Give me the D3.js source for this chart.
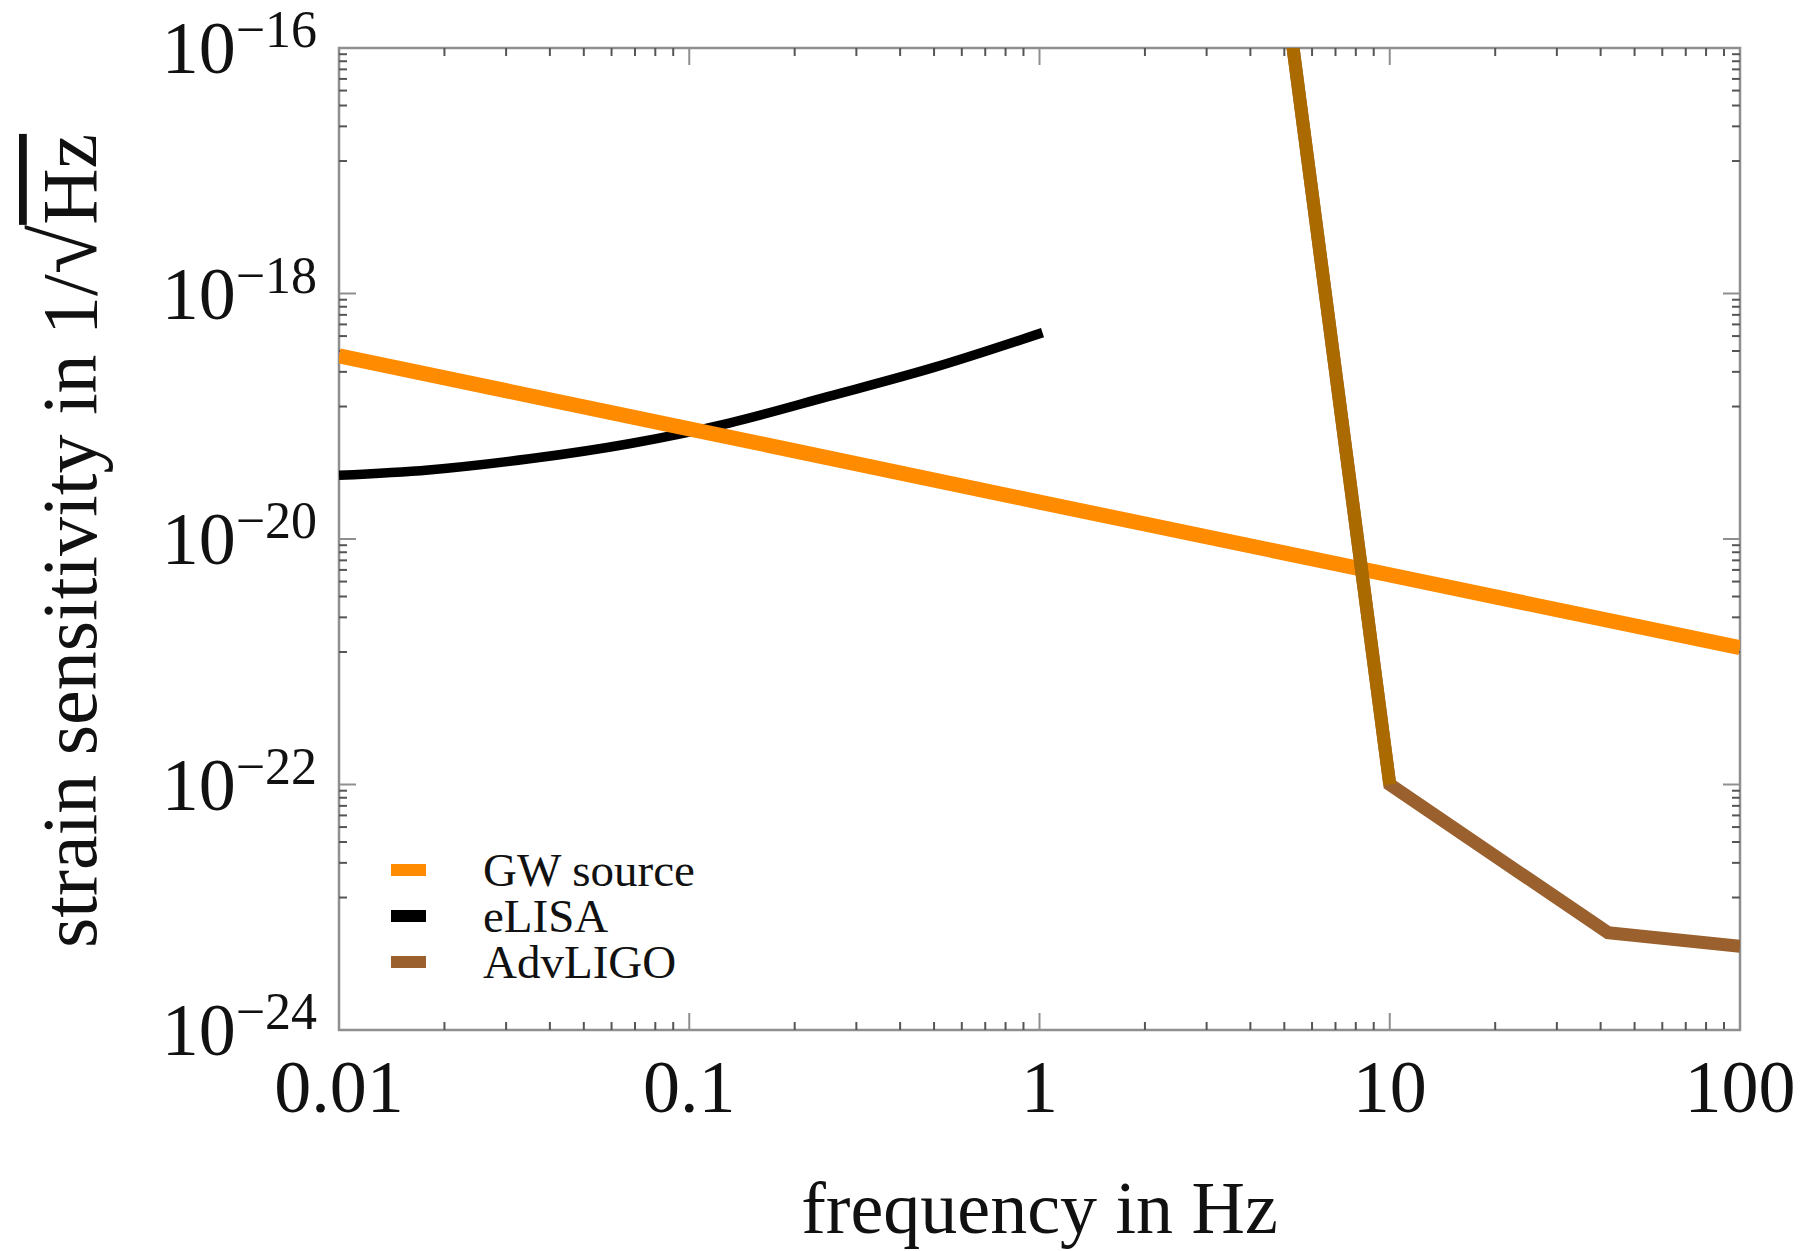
<!DOCTYPE html>
<html>
<head>
<meta charset="utf-8">
<script src="https://cdn.jsdelivr.net/npm/d3@7"></script>
<style>
  html, body { margin: 0; padding: 0; background: #fff; }
  svg text { font-family: "Liberation Serif", "DejaVu Serif", serif; fill: #111; }
</style>
</head>
<body>
<svg id="chart"></svg>
<script>
"use strict";

// data (frequency in Hz, strain in 1/sqrt(Hz))
let gwFreq = [0.01, 0.1, 1, 10, 100];
let gwStrain = [3.1e-19, 7.9e-20, 2.0e-20, 5.1e-21, 1.3e-21];

let elisaFreq = [0.01, 0.018, 0.035, 0.068, 0.13, 0.25, 0.5, 1.02];
let elisaStrain = [3.3e-20, 3.65e-20, 4.5e-20, 6.0e-20, 8.8e-20, 1.45e-19, 2.5e-19, 4.8e-19];

let ligoFreq = [5, 10, 42, 100];
let ligoStrain = [3.5e-16, 1.0e-22, 6.2e-24, 4.8e-24];

let xTicks = [0.01, 0.1, 1, 10, 100];
let xTickLabels = ['0.01', '0.1', '1', '10', '100'];
let yTicks = [1e-16, 1e-18, 1e-20, 1e-22, 1e-24];
let yTickExponents = ['\u221216', '\u221218', '\u221220', '\u221222', '\u221224'];

let legendNames = ['GW source', 'eLISA', 'AdvLIGO'];
let legendColours = ['#ff8c00', '#000000', '#9a602e'];

let width = 1804, height = 1251;
let plot = {left: 339, right: 1740, top: 48, bottom: 1030};

let svg = d3.select('svg#chart')
  .attr('width', width)
  .attr('height', height);

let xScale = d3.scaleLog().domain([0.01, 100]).range([plot.left, plot.right]);
let yScale = d3.scaleLog().domain([1e-24, 1e-16]).range([plot.bottom, plot.top]);

svg.append('defs').append('clipPath')
  .attr('id', 'plot-clip')
  .append('rect')
  .attr('x', plot.left)
  .attr('y', plot.top)
  .attr('width', plot.right - plot.left)
  .attr('height', plot.bottom - plot.top);

/* frame */
svg.append('rect')
  .attr('x', plot.left)
  .attr('y', plot.top)
  .attr('width', plot.right - plot.left)
  .attr('height', plot.bottom - plot.top)
  .attr('fill', 'none')
  .attr('stroke', '#8f8f8f')
  .attr('stroke-width', 2.5);

/* x ticks: decades plus 2..9 minor, on bottom and top */
let xMinor = [];
for (let i = 0; i < xTicks.length - 1; i++) {
  for (let k = 2; k <= 9; k++) xMinor.push(xTicks[i] * k);
}
let xTickGroup = svg.append('g').attr('id', 'x-ticks');
[[plot.bottom, -1], [plot.top, 1]].forEach(([y0, dir]) => {
  xTickGroup.selectAll(null)
    .data(xTicks)
    .enter()
    .append('line')
    .attr('x1', d => xScale(d)).attr('x2', d => xScale(d))
    .attr('y1', y0).attr('y2', y0 + dir * 17)
    .attr('stroke', '#8f8f8f').attr('stroke-width', 2);
  xTickGroup.selectAll(null)
    .data(xMinor)
    .enter()
    .append('line')
    .attr('x1', d => xScale(d)).attr('x2', d => xScale(d))
    .attr('y1', y0).attr('y2', y0 + dir * 8)
    .attr('stroke', '#555').attr('stroke-width', 2);
});

/* y ticks: every two decades, minor ticks split each interval in nine */
let yMinor = [];
for (let i = 0; i < yTicks.length - 1; i++) {
  let hi = yTicks[i], lo = yTicks[i + 1];
  for (let k = 1; k <= 8; k++) yMinor.push(lo + k * (hi - lo) / 9);
}
let yTickGroup = svg.append('g').attr('id', 'y-ticks');
[[plot.left, 1], [plot.right, -1]].forEach(([x0, dir]) => {
  yTickGroup.selectAll(null)
    .data(yTicks)
    .enter()
    .append('line')
    .attr('y1', d => yScale(d)).attr('y2', d => yScale(d))
    .attr('x1', x0).attr('x2', x0 + dir * 17)
    .attr('stroke', '#8f8f8f').attr('stroke-width', 2);
  yTickGroup.selectAll(null)
    .data(yMinor)
    .enter()
    .append('line')
    .attr('y1', d => yScale(d)).attr('y2', d => yScale(d))
    .attr('x1', x0).attr('x2', x0 + dir * 8)
    .attr('stroke', '#555').attr('stroke-width', 2);
});

/* tick labels */
svg.append('g')
  .selectAll('text')
  .data(xTicks)
  .enter()
  .append('text')
  .attr('x', d => xScale(d))
  .attr('y', 1112)
  .attr('text-anchor', 'middle')
  .style('font-size', '74px')
  .text((d, i) => xTickLabels[i]);

let yLabels = svg.append('g')
  .selectAll('text')
  .data(yTicks)
  .enter()
  .append('text')
  .attr('x', 317)
  .attr('y', d => yScale(d) + 25)
  .attr('text-anchor', 'end')
  .style('font-size', '74px');
yLabels.append('tspan').text('10');
yLabels.append('tspan')
  .attr('dy', -26)
  .style('font-size', '52px')
  .text((d, i) => yTickExponents[i]);

/* series */
let line = d3.line()
  .x(d => xScale(d[0]))
  .y(d => yScale(d[1]));

let series = svg.append('g').attr('clip-path', 'url(#plot-clip)');

series.append('path')
  .datum(elisaFreq.map((f, i) => [f, elisaStrain[i]]))
  .attr('d', line.curve(d3.curveMonotoneX))
  .attr('fill', 'none')
  .attr('stroke', '#000')
  .attr('stroke-width', 9.5);

line.curve(d3.curveLinear);

series.append('path')
  .datum(gwFreq.map((f, i) => [f, gwStrain[i]]))
  .attr('d', line)
  .attr('fill', 'none')
  .attr('stroke', '#ff8c00')
  .attr('stroke-width', 15);

let ligo = ligoFreq.map((f, i) => [f, ligoStrain[i]]);
series.append('path')
  .datum(ligo)
  .attr('d', line)
  .attr('fill', 'none')
  .attr('stroke', '#9a602e')
  .attr('stroke-width', 13)
  .attr('stroke-linejoin', 'miter');

// the steep wall is drawn a bit more orange in the original
series.append('path')
  .datum(ligo.slice(0, 2))
  .attr('d', line)
  .attr('fill', 'none')
  .attr('stroke', '#ab6a00')
  .attr('stroke-width', 13);

/* legend */
let legend = svg.append('g').attr('id', 'legend');
legendNames.forEach((name, i) => {
  legend.append('rect')
    .attr('x', 391)
    .attr('y', 864 + i * 46)
    .attr('width', 35)
    .attr('height', 12)
    .attr('fill', legendColours[i]);
  legend.append('text')
    .attr('x', 483)
    .attr('y', 886 + i * 46)
    .style('font-size', '47px')
    .text(name);
});

/* axis labels */
svg.append('text')
  .attr('x', (plot.left + plot.right) / 2)
  .attr('y', 1233)
  .attr('text-anchor', 'middle')
  .style('font-size', '74px')
  .text('frequency in Hz');

let yTitle = svg.append('text')
  .attr('transform', 'translate(96, 541) rotate(-90)')
  .attr('text-anchor', 'middle')
  .style('font-size', '78px');
yTitle.append('tspan').text('strain sensitivity in 1/');
yTitle.append('tspan').style('font-size', '90px').text('\u221a');
yTitle.append('tspan')
  .style('text-decoration', 'overline')
  .text('Hz');
</script>
</body>
</html>
